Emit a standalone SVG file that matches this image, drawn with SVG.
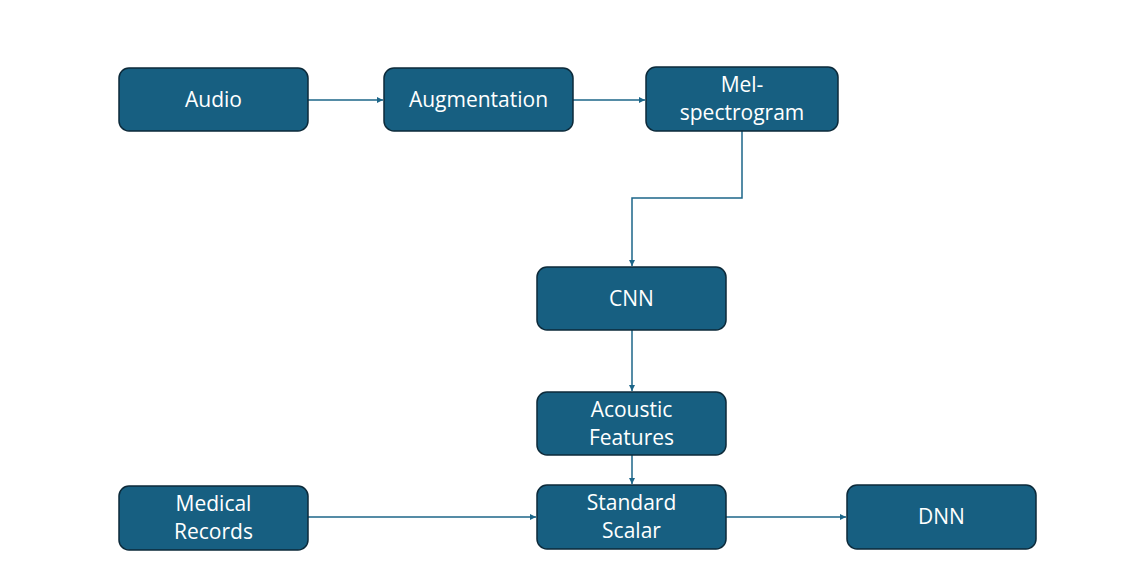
<svg xmlns="http://www.w3.org/2000/svg" width="1121" height="572" viewBox="0 0 1121 572">
<style>
.box{fill:#175F81;stroke:#0C2A3A;stroke-width:1.5}
.lbl{font-family:"Open Sans","Noto Sans",sans-serif;font-size:21px;fill:#ffffff;text-anchor:middle}
.edge{fill:none;stroke:#1C6689;stroke-width:1.5;marker-end:url(#arr)}
</style>
<defs>
<marker id="arr" viewBox="0 0 10 10" refX="10" refY="5" markerWidth="6" markerHeight="6" markerUnits="userSpaceOnUse" orient="auto">
<path d="M0,0 L10,5 L0,10 z" fill="#1C6689"/>
</marker>
</defs>
<rect width="1121" height="572" fill="#ffffff"/>
<g id="connectors">
<path class="edge" d="M308,100 H383"/>
<path class="edge" d="M573,100 H645"/>
<path class="edge" d="M742,131 V198 H632 V266"/>
<path class="edge" d="M632,330 V391"/>
<path class="edge" d="M632,455 V484"/>
<path class="edge" d="M308,517 H536"/>
<path class="edge" d="M726,517 H846"/>
</g>
<g id="audio"><rect class="box" x="119" y="68" width="189" height="63" rx="10"/><text class="lbl" x="213.5" y="107">Audio</text></g>
<g id="augmentation"><rect class="box" x="384" y="68" width="189" height="63" rx="10"/><text class="lbl" x="478.5" y="107">Augmentation</text></g>
<g id="mel"><rect class="box" x="646" y="67" width="192" height="64" rx="10"/><text class="lbl" x="742" y="92">Mel-</text><text class="lbl" x="742" y="120">spectrogram</text></g>
<g id="cnn"><rect class="box" x="537" y="267" width="189" height="63" rx="10"/><text class="lbl" x="631.5" y="306">CNN</text></g>
<g id="acoustic"><rect class="box" x="537" y="392" width="189" height="63" rx="10"/><text class="lbl" x="631.5" y="417">Acoustic</text><text class="lbl" x="631.5" y="445">Features</text></g>
<g id="scalar"><rect class="box" x="537" y="485" width="189" height="64" rx="10"/><text class="lbl" x="631.5" y="510">Standard</text><text class="lbl" x="631.5" y="538">Scalar</text></g>
<g id="medical"><rect class="box" x="119" y="486" width="189" height="64" rx="10"/><text class="lbl" x="213.5" y="511">Medical</text><text class="lbl" x="213.5" y="539">Records</text></g>
<g id="dnn"><rect class="box" x="847" y="485" width="189" height="64" rx="10"/><text class="lbl" x="941.5" y="524">DNN</text></g>
</svg>
